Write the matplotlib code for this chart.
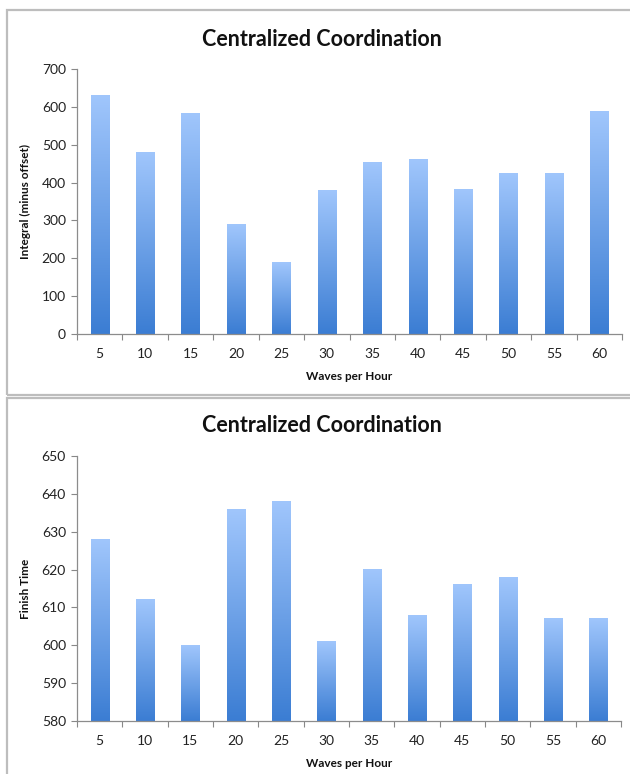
import numpy as np
import matplotlib
matplotlib.use("Agg")
import matplotlib.pyplot as plt
from matplotlib.colors import LinearSegmentedColormap
from matplotlib.patches import Rectangle

plt.rcParams["font.family"] = ["Lato", "DejaVu Sans"]

waves = [5, 10, 15, 20, 25, 30, 35, 40, 45, 50, 55, 60]
integral = [629, 480, 582, 290, 188, 378, 453, 460, 381, 423, 423, 587]
finish_time = [628, 612, 600, 636, 638, 601, 620, 608, 616, 618, 607, 607]

blue_fade = LinearSegmentedColormap.from_list("blue_fade", ["#3b7dd3", "#a0c6fc"])
grad = np.linspace(0, 1, 256).reshape(-1, 1)


def gradient_bars(ax, values, base):
    x = np.arange(len(values))
    bars = ax.bar(x, np.array(values) - base, bottom=base, width=0.4,
                  facecolor="none", edgecolor="none")
    for b in bars:
        x0, y0 = b.get_x(), b.get_y()
        ax.imshow(grad, cmap=blue_fade, origin="lower", aspect="auto",
                  extent=[x0, x0 + b.get_width(), y0, y0 + b.get_height()],
                  zorder=2)
    ax.set_xlim(-0.5, len(values) - 0.5)


def style_axes(ax, ylim, step, ylabel):
    n = len(waves)
    ax.set_ylim(*ylim)
    ax.set_yticks(np.arange(ylim[0], ylim[1] + 1, step))
    ax.set_xticks(np.arange(-0.5, n, 1.0))
    ax.set_xticklabels([])
    ax.set_xticks(np.arange(n), [str(w) for w in waves], minor=True)
    ax.tick_params(axis="x", which="minor", length=0, pad=10, labelsize=10, labelcolor="#222222")
    ax.tick_params(axis="x", which="major", length=4, color="#888888", direction="out")
    ax.tick_params(axis="y", length=4, color="#888888", labelsize=10, labelcolor="#222222", pad=4)
    for s in ("top", "right"):
        ax.spines[s].set_visible(False)
    for s in ("left", "bottom"):
        ax.spines[s].set_color("#8c8c8c")
        ax.spines[s].set_linewidth(0.9)
    ax.set_xlabel("Waves per Hour", fontsize=8.5, fontweight="bold", labelpad=8, color="#111111")
    ax.set_ylabel(ylabel, fontsize=8.5, fontweight="bold", labelpad=8, color="#111111")


fig = plt.figure(figsize=(6.3, 7.74), dpi=100)

# panel frames
fig.patches.append(Rectangle((7 / 630, 1 - 395 / 774), 1.0, (395 - 10) / 774,
                             transform=fig.transFigure, fill=False,
                             edgecolor="#bdbdbd", linewidth=1.6))
fig.patches.append(Rectangle((7 / 630, -0.1), 1.0, 0.1 + 1 - 398 / 774,
                             transform=fig.transFigure, fill=False,
                             edgecolor="#bdbdbd", linewidth=1.6))

ax1 = fig.add_axes([77 / 630, 1 - 334 / 774, 545 / 630, 265 / 774])
gradient_bars(ax1, integral, 0)
style_axes(ax1, (0, 700), 100, "Integral (minus offset)")

ax2 = fig.add_axes([77 / 630, 1 - 721 / 774, 544 / 630, 265 / 774])
gradient_bars(ax2, finish_time, 580)
style_axes(ax2, (580, 650), 10, "Finish Time")

for y in (40, 426):
    fig.text(322 / 630, 1 - y / 774, "Centralized Coordination", ha="center", va="center",
             fontsize=15.5, fontweight="bold", color="#111111")

fig.savefig("out.png", dpi=100)
